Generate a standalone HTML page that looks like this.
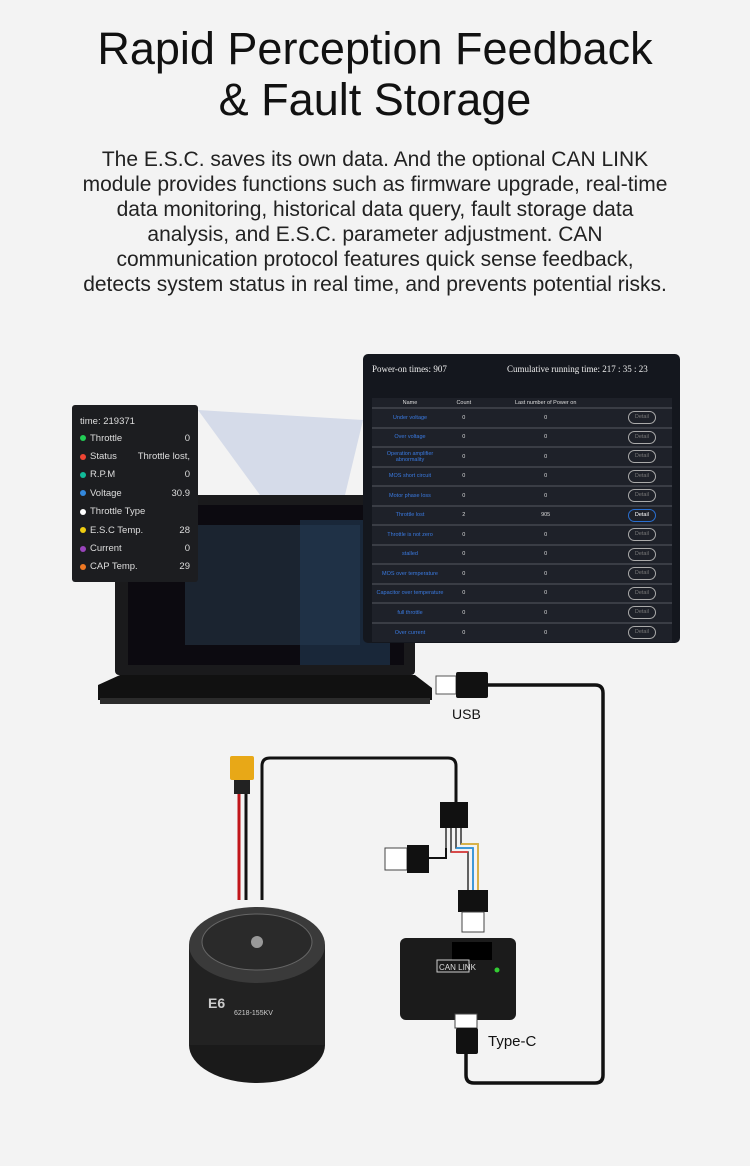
<!DOCTYPE html>
<html><head><meta charset="utf-8"><style>
*{margin:0;padding:0;box-sizing:border-box}
body{width:750px;height:1166px;background:#f3f3f3;font-family:"Liberation Sans",sans-serif;position:relative;overflow:hidden}
h1{position:absolute;top:23px;left:0;width:750px;text-align:center;font-size:45px;font-weight:400;line-height:51px;color:#111}
p.d{position:absolute;top:147px;left:0;width:750px;text-align:center;font-size:21px;line-height:25px;color:#222;white-space:nowrap}
.lp{position:absolute;left:72px;top:405px;width:126px;height:177px;background:#1c1d20;border-radius:3px;color:#ddd;font-size:9.5px;padding:8px 8px}
.lp div{height:18.4px;display:flex;align-items:center}
.lp i{width:6px;height:6px;border-radius:50%;display:inline-block;margin-right:4px}
.lp span{margin-left:auto}
.rp{position:absolute;left:363px;top:354px;width:317px;height:289px;background:#14171e;border-radius:5px;color:#eee;font-family:"Liberation Serif",serif;font-size:9px}
.rp .hd{position:absolute;top:10px;left:9px}
.rp .hd2{position:absolute;top:10px;left:144px}
.rp table{position:absolute;top:44px;left:9px;width:300px;border-collapse:collapse;font-family:"Liberation Sans",sans-serif;font-size:5.5px}
.rp td{height:19.5px;text-align:center;border-top:2px solid #3a3d45;background:#1e2129;color:#ddd}
.rp td.n{color:#3a7ae0;width:76px}
.rp th{height:10px;background:#1e2129;color:#ddd;font-weight:400}
.bt{display:inline-block;width:28px;height:13px;border:1.5px solid #aaa;border-radius:7px;line-height:10px;color:#777}
</style></head><body>
<h1>Rapid Perception Feedback<br>&amp; Fault Storage</h1>
<p class="d">The E.S.C. saves its own data. And the optional CAN LINK<br>module provides functions such as firmware upgrade, real-time<br>data monitoring, historical data query, fault storage data<br>analysis, and E.S.C. parameter adjustment. CAN<br>communication protocol features quick sense feedback,<br>detects system status in real time, and prevents potential risks.</p>
<svg width="750" height="1166" style="position:absolute;left:0;top:0">
<polygon points="198,410 260,495 345,495 363,420" fill="#c8d0e4" opacity=".7"/>
<rect x="115" y="495" width="300" height="180" rx="4" fill="#1a1a1c"/>
<rect x="128" y="505" width="276" height="160" fill="#0c0a10"/>
<rect x="185" y="525" width="175" height="120" fill="#1f2a38" opacity=".8"/>
<rect x="300" y="520" width="90" height="145" fill="#233a55" opacity=".6"/>
<path d="M98,685 L120,675 L415,675 L432,688 L432,700 L98,700 Z" fill="#111"/>
<rect x="100" y="698" width="330" height="6" fill="#2b2b2b"/>
<rect x="436" y="676" width="20" height="18" fill="#fff" stroke="#555"/>
<rect x="456" y="672" width="32" height="26" rx="2" fill="#111"/>
<path d="M488,685 H595 Q603,685 603,693 V1075 Q603,1083 595,1083 H474 Q466,1083 466,1075 V1050" stroke="#111" stroke-width="3.5" fill="none"/>
<text x="452" y="719" font-size="14" fill="#111" font-family="Liberation Sans">USB</text>
<rect x="230" y="756" width="24" height="24" rx="2" fill="#e8a817"/>
<rect x="234" y="780" width="16" height="14" fill="#222"/>
<line x1="239" y1="794" x2="239" y2="900" stroke="#c0151a" stroke-width="3"/>
<line x1="246" y1="794" x2="246" y2="900" stroke="#111" stroke-width="3"/>
<path d="M262,900 V766 Q262,758 270,758 H448 Q456,758 456,766 V805" stroke="#111" stroke-width="3" fill="none"/>
<rect x="440" y="802" width="28" height="26" fill="#111"/>
<path d="M446,828 V848 M451,828 V852 H468 V890 M456,828 V848 H473 V890 M461,828 V844 H478 V890" stroke="#333" stroke-width="1.5" fill="none"/>
<path d="M451,852 H468" stroke="#e33" stroke-width="1.5"/>
<path d="M456,848 H473 V890" stroke="#29e" stroke-width="1.5" fill="none"/>
<path d="M461,844 H478 V890" stroke="#eb3" stroke-width="1.5" fill="none"/>
<path d="M446,848 V858 H428" stroke="#111" stroke-width="2" fill="none"/>
<rect x="385" y="848" width="22" height="22" fill="#fff" stroke="#444"/>
<rect x="407" y="845" width="22" height="28" fill="#111"/>
<rect x="458" y="890" width="30" height="22" fill="#111"/>
<rect x="462" y="912" width="22" height="20" fill="#fff" stroke="#444"/>
<rect x="400" y="938" width="116" height="82" rx="6" fill="#1b1b1b"/>
<rect x="452" y="942" width="40" height="18" fill="#000"/>
<rect x="437" y="960" width="32" height="12" fill="none" stroke="#ccc" stroke-width="1"/>
<text x="439" y="970" font-size="8" fill="#ddd">CAN LINK</text>
<circle cx="497" cy="970" r="2.5" fill="#3c3"/>
<rect x="455" y="1014" width="22" height="14" fill="#fff" stroke="#444"/>
<rect x="456" y="1028" width="22" height="26" rx="2" fill="#111"/>
<text x="488" y="1046" font-size="15" fill="#111" font-family="Liberation Sans">Type-C</text>
<ellipse cx="257" cy="1045" rx="68" ry="38" fill="#1a1a1a"/>
<rect x="189" y="945" width="136" height="100" fill="#222"/>
<ellipse cx="257" cy="945" rx="68" ry="38" fill="#3a3a3a"/>
<ellipse cx="257" cy="942" rx="55" ry="28" fill="#2a2a2a" stroke="#666"/>
<circle cx="257" cy="942" r="6" fill="#999"/>
<text x="208" y="1008" font-size="14" font-weight="700" fill="#ccc">E6</text>
<text x="234" y="1015" font-size="7" fill="#ccc">6218-155KV</text>
</svg>
<div class="lp">
<div style="height:16px">time: 219371</div>
<div><i style="background:#2c5"></i>Throttle<span>0</span></div>
<div><i style="background:#e43"></i>Status<span>Throttle lost,</span></div>
<div><i style="background:#1b9"></i>R.P.M<span>0</span></div>
<div><i style="background:#38d"></i>Voltage<span>30.9</span></div>
<div><i style="background:#fff"></i>Throttle Type</div>
<div><i style="background:#ec1"></i>E.S.C Temp.<span>28</span></div>
<div><i style="background:#94b"></i>Current<span>0</span></div>
<div><i style="background:#e72"></i>CAP Temp.<span>29</span></div>
</div>
<div class="rp">
<div class="hd">Power-on times: 907</div>
<div class="hd2">Cumulative running time: 217 : 35 : 23</div>
<table>
<tr><th>Name</th><th>Count</th><th>Last number of Power on</th><th></th></tr>
<tr><td class="n">Under voltage</td><td>0</td><td>0</td><td><span class="bt">Detail</span></td></tr>
<tr><td class="n">Over voltage</td><td>0</td><td>0</td><td><span class="bt">Detail</span></td></tr>
<tr><td class="n">Operation amplifier abnormality</td><td>0</td><td>0</td><td><span class="bt">Detail</span></td></tr>
<tr><td class="n">MOS short circuit</td><td>0</td><td>0</td><td><span class="bt">Detail</span></td></tr>
<tr><td class="n">Motor phase loss</td><td>0</td><td>0</td><td><span class="bt">Detail</span></td></tr>
<tr><td class="n">Throttle lost</td><td>2</td><td>905</td><td><span class="bt" style="border-color:#2a6fd0;color:#fff">Detail</span></td></tr>
<tr><td class="n">Throttle is not zero</td><td>0</td><td>0</td><td><span class="bt">Detail</span></td></tr>
<tr><td class="n">stalled</td><td>0</td><td>0</td><td><span class="bt">Detail</span></td></tr>
<tr><td class="n">MOS over temperature</td><td>0</td><td>0</td><td><span class="bt">Detail</span></td></tr>
<tr><td class="n">Capacitor over temperature</td><td>0</td><td>0</td><td><span class="bt">Detail</span></td></tr>
<tr><td class="n">full throttle</td><td>0</td><td>0</td><td><span class="bt">Detail</span></td></tr>
<tr><td class="n">Over current</td><td>0</td><td>0</td><td><span class="bt">Detail</span></td></tr>
</table>
</div>
</body></html>
